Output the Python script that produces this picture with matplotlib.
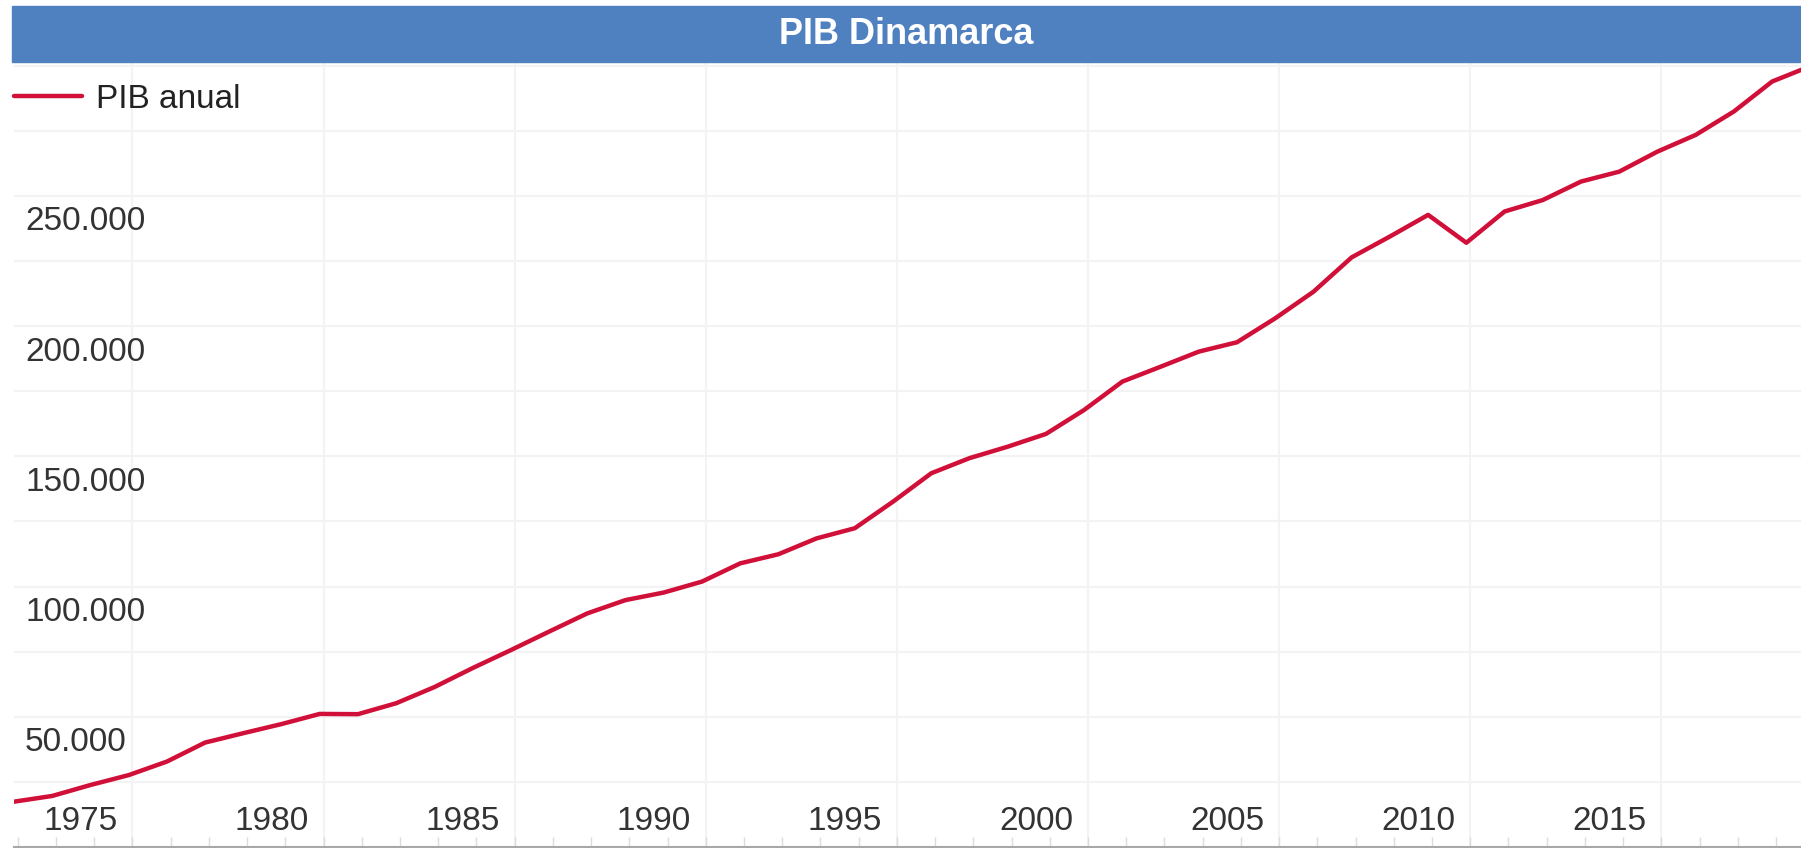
import matplotlib
matplotlib.use("Agg")
import matplotlib.pyplot as plt
import numpy as np
from matplotlib.patches import Rectangle
from matplotlib.transforms import ScaledTranslation

# annual GDP
years = list(range(1973, 2021))
pib = [
    17400, 19600, 23800, 27600, 32800, 40100, 43700, 47200, 51100, 51000,
    55200, 61400, 68700, 75600, 82700, 89700, 94800, 97700, 101900, 108900,
    112400, 118500, 122400, 132600, 143500, 149300, 153700, 158600, 167800, 178700,
    184400, 190200, 193800, 203000, 213200, 226400, 234400, 242700, 232000, 244000,
    248400, 255500, 259300, 267000, 273400, 282400, 293900, 299800,
]
x_labels = [1975, 1980, 1985, 1990, 1995, 2000, 2005, 2010, 2015]
y_labels = [50000, 100000, 150000, 200000, 250000]
title = "PIB Dinamarca"
series_name = "PIB anual"

W, H, DPI = 1801, 848, 100
plt.rcParams["font.family"] = ["Liberation Sans", "DejaVu Sans"]
TEXT = "#333333"
GRID = "#f3f3f3"
RED = "#d01038"

fig = plt.figure(figsize=(W / DPI, H / DPI), dpi=DPI)
ax = fig.add_axes([14 / W, 1 / H, 1 - 14 / W, (847 - 62) / H])

ax.plot(years, pib, color=RED, lw=3.2, label=series_name, zorder=3,
        solid_joinstyle="round", solid_capstyle="round")
ax.set_xlim(1973, 1973 + 1787 / 38.22)
ax.set_ylim(0, 301400)

# horizontal grid every 25k, labels every 50k
ax.set_yticks(y_labels)
ax.set_yticklabels([f"{v:,}".replace(",", ".") for v in y_labels])
ax.set_yticks(np.arange(25000, 300001, 25000), minor=True)
ax.yaxis.grid(True, which="both", color=GRID, lw=1.5, zorder=0)
ax.tick_params(axis="y", which="both", length=0, pad=0, labelsize=24, labelcolor=TEXT)
for lbl in ax.get_yticklabels():
    lbl.set_ha("left")
    lbl.set_va("center")
    lbl.set_transform(lbl.get_transform() + ScaledTranslation(0.11, -0.26, fig.dpi_scale_trans))

# x axis: yearly ticks, 5-year grid, labels sit a little left of the grid
shift = 0.1
ax.set_xticks([y - 0.26 for y in x_labels])
ax.set_xticklabels([str(y) for y in x_labels])
ax.set_xticks([y + shift for y in years if y < 2020], minor=True)
for y in range(1976, 2020, 5):
    ax.axvline(y + shift, color=GRID, lw=1.5, zorder=0)
ax.tick_params(axis="x", which="major", length=0, pad=0, labelsize=24, labelcolor=TEXT)
ax.tick_params(axis="x", which="minor", direction="in", length=7, width=1, color="#dcdcdc")
for lbl in ax.get_xticklabels():
    lbl.set_va("center")
    lbl.set_transform(lbl.get_transform() + ScaledTranslation(0, 0.25, fig.dpi_scale_trans))

for s in ("top", "right", "left"):
    ax.spines[s].set_visible(False)
ax.spines["bottom"].set_color("#a8a8a8")
ax.spines["bottom"].set_linewidth(1.5)

# title bar
fig.patches.append(Rectangle((12 / W, 1 - 62 / H), 1 - 12 / W, 56 / H,
                             transform=fig.transFigure, color="#4f80bf", zorder=5))
fig.text(906 / W, 1 - 34 / H, title, color="white", fontsize=26, fontweight="bold",
         ha="center", va="center", zorder=6)

ax.legend(loc="center left", bbox_to_anchor=(14 / W, 1 - 99 / H), bbox_transform=fig.transFigure,
          frameon=False, borderpad=0, borderaxespad=0, handlelength=2.04, handletextpad=0.42,
          fontsize=24, labelcolor="#222222")

fig.savefig("out.png", dpi=DPI)
